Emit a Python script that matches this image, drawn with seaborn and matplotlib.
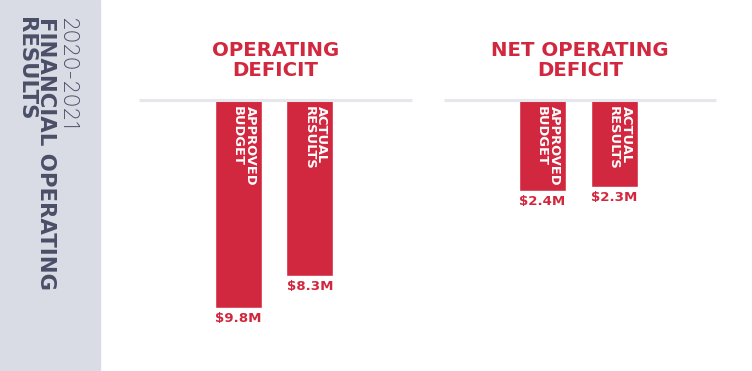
import pandas as pd
import matplotlib.pyplot as plt
import seaborn as sns
from matplotlib.patches import Rectangle

# Data
categories = ["APPROVED\nBUDGET", "ACTUAL\nRESULTS"]
operating_deficit = [9.8, 8.3]
net_operating_deficit = [2.4, 2.3]
panel_titles = ["OPERATING\nDEFICIT", "NET OPERATING\nDEFICIT"]
sidebar_lines = ["2020-2021", "FINANCIAL OPERATING", "RESULTS"]

RED = "#d2283f"
SIDEBAR_BG = "#d9dce5"
SIDEBAR_TEXT = "#4a4f68"
BASELINE = "#e6e7ed"

sns.set_style("white")
plt.rcParams['font.family'] = ['DejaVu Sans']

fig = plt.figure(figsize=(7.52, 3.71), dpi=100)

# Left sidebar with the rotated heading
fig.patches.append(Rectangle((0, 0), 100 / 752, 1, transform=fig.transFigure,
                             color=SIDEBAR_BG, zorder=0))
sidebar_x = [67, 46, 26]
sidebar_size = [16, 15.3, 15.3]
sidebar_weight = ["light", "bold", "bold"]
sidebar_font = ["Inter", "DejaVu Sans", "DejaVu Sans"]
for line, x, s, w, f in zip(sidebar_lines, sidebar_x, sidebar_size,
                            sidebar_weight, sidebar_font):
    fig.text(x / 752, 1 - 17 / 371, line, rotation=-90, rotation_mode='anchor',
             ha='left', va='center', fontsize=s, fontweight=w, family=f,
             color=SIDEBAR_TEXT)

# One axis per panel, each with its own scale
panels = [
    (operating_deficit, [139 / 752, 0, 273 / 752, 271.5 / 371], 12.75, (-1.39, 2.43)),
    (net_operating_deficit, [444 / 752, 0, 272 / 752, 271.5 / 371], 7.1, (-1.37, 2.41)),
]
bar_width = 0.657

for (values, rect, ymax, xlim), title in zip(panels, panel_titles):
    ax = fig.add_axes(rect)
    df = pd.DataFrame({'category': categories, 'value': values})
    sns.barplot(data=df, x='category', y='value', color=RED, saturation=1,
                width=bar_width, ax=ax)
    ax.set_ylim(ymax, 0)
    ax.set_xlim(*xlim)
    ax.set_axis_off()

    # baseline across the top of the bars
    ax.plot([0, 1], [1, 1], transform=ax.transAxes, color=BASELINE, lw=2.2,
            clip_on=False, zorder=5, solid_capstyle='butt')

    for i, (cat, val) in enumerate(zip(categories, values)):
        # label inside the bar, running downwards
        ax.annotate(cat, xy=(i + bar_width / 2, 0), xytext=(-5, -7),
                    textcoords='offset pixels', rotation=-90, rotation_mode='anchor',
                    ha='left', va='top', fontsize=9.4, fontweight='bold',
                    color='white', linespacing=1.0)
        # value under the bar
        ax.annotate(f"${val}M", xy=(i, val), xytext=(0, -4),
                    textcoords='offset pixels', ha='center', va='top',
                    fontsize=9.6, fontweight='bold', color=RED)

    ax.text(0.5, 1 + 39 / 271.5, title, transform=ax.transAxes, ha='center',
            va='center', fontsize=14.2, fontweight='bold', color=RED, linespacing=1.05)

fig.savefig("out.png", dpi=100)
